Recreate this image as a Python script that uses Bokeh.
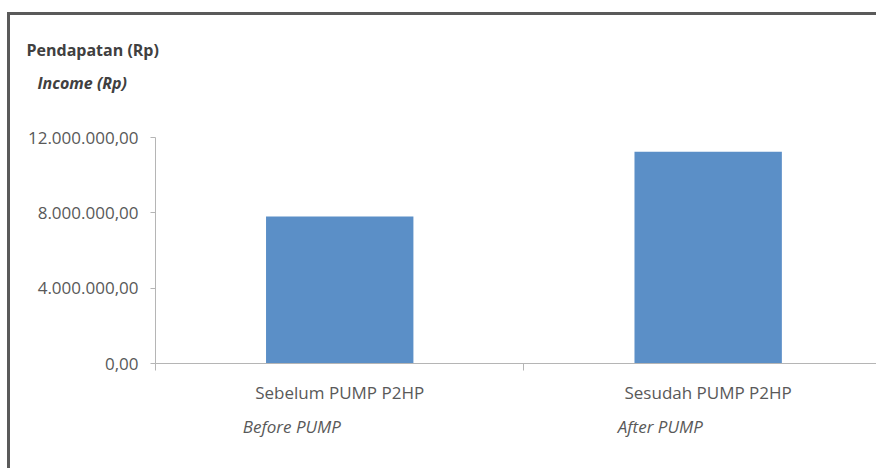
from bokeh.plotting import figure
from bokeh.models import Range1d, FixedTicker, Title, LinearAxis
from bokeh.embed import file_html
from bokeh.resources import INLINE

# ---- data ----
categories = ["Sebelum PUMP P2HP", "Sesudah PUMP P2HP"]
categories_en = ["Before PUMP", "After PUMP"]
income = [7800000, 11250000]
y_ticks = [0, 4000000, 8000000, 12000000]
y_tick_labels = ["0,00", "4.000.000,00", "8.000.000,00", "12.000.000,00"]
title_id = "Pendapatan (Rp)"
title_en = "Income (Rp)"

FONT = "Open Sans"
GREY = "#595959"
AXIS = "#b5b5b5"
FS = "17px"

x_pos = [i + 0.5 for i in range(len(categories))]
boundaries = list(range(len(categories) + 1))
X_END = 1.965
SHIFT = 0.13  # english sub-labels sit a little left of the category centre

p = figure(width=869, height=456, output_backend="svg", toolbar_location=None,
           x_range=Range1d(0, X_END), y_range=Range1d(0, 12000000),
           min_border_left=145, min_border_right=0, min_border_top=122,
           min_border_bottom=108, title=None)
p.extra_x_ranges = {"en": Range1d(SHIFT, X_END + SHIFT)}

p.vbar(x=x_pos, top=income, width=0.40, fill_color="#5B8FC7", line_color=None)

p.xgrid.visible = False
p.ygrid.visible = False
p.outline_line_color = None
p.background_fill_color = "white"
p.border_fill_color = "white"

# x axis
p.xaxis.ticker = FixedTicker(ticks=x_pos, minor_ticks=boundaries)
p.xaxis.major_label_overrides = {x: c for x, c in zip(x_pos, categories)}
p.xaxis.major_tick_line_color = None
p.xaxis.major_tick_out = 0
p.xaxis.major_tick_in = 0
p.xaxis.minor_tick_out = 7
p.xaxis.minor_tick_in = 0
p.xaxis.minor_tick_line_color = AXIS
p.xaxis.axis_line_color = AXIS
p.xaxis.major_label_standoff = 10
p.xaxis.major_label_text_font = FONT
p.xaxis.major_label_text_font_size = FS
p.xaxis.major_label_text_color = GREY

# second x axis with the english sub-labels
en_axis = LinearAxis(x_range_name="en",
                     ticker=FixedTicker(ticks=x_pos),
                     major_label_overrides={x: c for x, c in zip(x_pos, categories_en)},
                     axis_line_color=None, major_tick_line_color=None,
                     minor_tick_line_color=None, major_tick_out=0, major_tick_in=0,
                     minor_tick_out=0, minor_tick_in=0,
                     major_label_standoff=8,
                     major_label_text_font=FONT, major_label_text_font_size=FS,
                     major_label_text_font_style="italic",
                     major_label_text_color=GREY)
p.add_layout(en_axis, "below")

# y axis
p.yaxis.ticker = FixedTicker(ticks=y_ticks)
p.yaxis.major_label_overrides = {v: s for v, s in zip(y_ticks, y_tick_labels)}
p.yaxis.major_tick_out = 5
p.yaxis.major_tick_in = 0
p.yaxis.major_tick_line_color = AXIS
p.yaxis.minor_tick_line_color = None
p.yaxis.axis_line_color = AXIS
p.yaxis.major_label_standoff = 12
p.yaxis.major_label_text_font = FONT
p.yaxis.major_label_text_font_size = FS
p.yaxis.major_label_text_color = GREY

# axis titles (stacked above the frame; first added is nearest the frame)
p.add_layout(Title(text=title_en, align="left", offset=-118, standoff=88,
                   text_font=FONT, text_font_size="16px",
                   text_font_style="bold italic", text_color="#404040"), "above")
p.add_layout(Title(text=title_id, align="left", offset=-129, standoff=-71,
                   text_font=FONT, text_font_size="16px",
                   text_font_style="bold", text_color="#404040"), "above")

p.styles = {"border-left": "3px solid #5a5a5a", "border-top": "3px solid #5a5a5a",
            "margin-top": "12px", "margin-left": "7px"}

open("out.html", "w").write(file_html(p, INLINE))
